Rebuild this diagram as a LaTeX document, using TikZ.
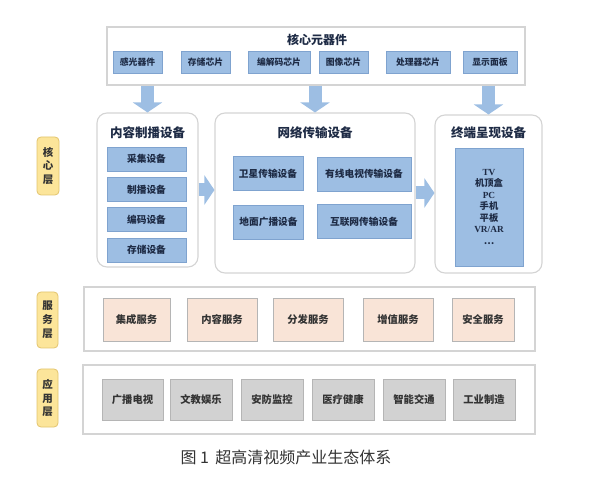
\documentclass[tikz,border=0pt]{standalone}
\usepackage{fontspec}
\setmainfont{Noto Sans CJK SC}
\newfontfamily\lat{Liberation Serif}
\usetikzlibrary{arrows.meta}
\definecolor{bfill}{HTML}{9DBEE3}
\definecolor{bline}{HTML}{7FA3CF}
\definecolor{oline}{HTML}{D4D4D4}
\definecolor{pfill}{HTML}{F9E4D7}
\definecolor{gfill}{HTML}{D2D2D2}
\definecolor{iline}{HTML}{B5B5B5}
\definecolor{yfill}{HTML}{FCE59A}
\definecolor{yline}{HTML}{E2C46E}
\definecolor{tnavy}{HTML}{1E2B45}
\definecolor{tdark}{HTML}{333333}
\tikzset{
  outerbox/.style={draw=oline, line width=1.1pt, fill=white, inner sep=0pt},
  roundbox/.style={outerbox, rounded corners=10pt},
  bluebox/.style={draw=bline, line width=0.6pt, fill=bfill, inner sep=0pt, font=\bfseries\fontsize{9.7}{11}\selectfont, text=tnavy},
  smallblue/.style={bluebox, font=\bfseries\fontsize{8.8}{10}\selectfont},
  peachbox/.style={draw=iline, line width=0.7pt, fill=pfill, inner sep=0pt, font=\bfseries\fontsize{10.3}{12}\selectfont, text=tdark},
  graybox/.style={draw=iline, line width=0.7pt, fill=gfill, inner sep=0pt, font=\bfseries\fontsize{10.3}{12}\selectfont, text=tdark},
  layerlabel/.style={draw=yline, line width=0.8pt, fill=yfill, rounded corners=4pt, inner sep=0pt, align=center, font=\bfseries\fontsize{10.5}{13.8}\selectfont, text=tdark},
  titletext/.style={font=\bfseries\fontsize{12.5}{14}\selectfont, text=tnavy, inner sep=0pt},
  blockarrow/.style={draw=bfill, line width=13pt, -{Triangle[width=29pt,length=10pt]}},
}
\begin{document}
\begin{tikzpicture}[x=1pt,y=-1pt]
\useasboundingbox (0,0) rectangle (592,478);
% top box
\node[outerbox, minimum width=418pt, minimum height=58pt] (top) at (316,56) {};
\node[titletext, font=\bfseries\fontsize{12}{14}\selectfont] (toptitle) at (317,40) {核心元器件};
\node[smallblue, minimum width=49pt, minimum height=22pt] (t1) at (137.5,62) {感光器件};
\node[smallblue, minimum width=49pt, minimum height=22pt] (t2) at (205.5,62) {存储芯片};
\node[smallblue, minimum width=62pt, minimum height=22pt] (t3) at (279,62) {编解码芯片};
\node[smallblue, minimum width=49pt, minimum height=22pt] (t4) at (343.5,62) {图像芯片};
\node[smallblue, minimum width=64pt, minimum height=22pt] (t5) at (418,62) {处理器芯片};
\node[smallblue, minimum width=54pt, minimum height=22pt] (t6) at (490,62) {显示面板};
% core layer
\node[layerlabel, minimum width=22pt, minimum height=58pt] (L1) at (48,166) {核\\心\\层};
\node[roundbox, minimum width=101pt, minimum height=154pt] (cbox) at (147.5,190) {};
\node[titletext] (ctitle) at (147.5,133) {内容制播设备};
\node[bluebox, minimum width=79pt, minimum height=24pt] (c1) at (146.5,159) {采集设备};
\node[bluebox, minimum width=79pt, minimum height=24pt] (c2) at (146.5,189.5) {制播设备};
\node[bluebox, minimum width=79pt, minimum height=24pt] (c3) at (146.5,219.5) {编码设备};
\node[bluebox, minimum width=79pt, minimum height=24pt] (c4) at (146.5,250) {存储设备};
\node[roundbox, minimum width=200pt, minimum height=160pt] (nbox) at (315,193) {};
\node[titletext] (ntitle) at (315,133) {网络传输设备};
\node[bluebox, minimum width=70pt, minimum height=34pt] (n1) at (268,173.5) {卫星传输设备};
\node[bluebox, minimum width=70pt, minimum height=34pt] (n2) at (268.5,222) {地面广播设备};
\node[bluebox, minimum width=94pt, minimum height=34pt] (n3) at (364,174) {有线电视传输设备};
\node[bluebox, minimum width=94pt, minimum height=34pt] (n4) at (364,221.5) {互联网传输设备};
\node[roundbox, minimum width=107pt, minimum height=158pt] (dbox) at (488.5,194) {};
\node[titletext] (dtitle) at (488.5,133) {终端呈现设备};
\node[bluebox, minimum width=68pt, minimum height=118pt, align=center, font=\bfseries\fontsize{9.3}{11.5}\selectfont] (d1) at (489,207)
  {{\lat\bfseries TV}\\机顶盒\\{\lat\bfseries PC}\\手机\\平板\\{\lat\bfseries VR/AR}\\…};
% arrows
\draw[blockarrow] (top.south -| cbox.north) -- (cbox.north);
\draw[blockarrow] (top.south -| nbox.north) -- (nbox.north);
\draw[blockarrow] (top.south -| dbox.north) -- (dbox.north);
\draw[blockarrow] (cbox.east) -- (cbox.east -| nbox.west);
\draw[blockarrow] (nbox.east) -- (nbox.east -| dbox.west);
% service layer
\node[layerlabel, minimum width=21pt, minimum height=56pt] (L2) at (47.5,320) {服\\务\\层};
\node[outerbox, minimum width=451pt, minimum height=64pt] (sbox) at (309.5,319) {};
\node[peachbox, minimum width=67pt, minimum height=43pt] (s1) at (136.5,319.5) {集成服务};
\node[peachbox, minimum width=70pt, minimum height=43pt] (s2) at (222,319.5) {内容服务};
\node[peachbox, minimum width=70pt, minimum height=43pt] (s3) at (308,319.5) {分发服务};
\node[peachbox, minimum width=70pt, minimum height=43pt] (s4) at (398,319.5) {增值服务};
\node[peachbox, minimum width=62pt, minimum height=43pt] (s5) at (483,319.5) {安全服务};
% application layer
\node[layerlabel, minimum width=21pt, minimum height=58pt] (L3) at (47.5,398) {应\\用\\层};
\node[outerbox, minimum width=452pt, minimum height=69pt] (abox) at (309,399.5) {};
\node[graybox, minimum width=61pt, minimum height=41pt] (a1) at (132.5,399.5) {广播电视};
\node[graybox, minimum width=62pt, minimum height=41pt] (a2) at (201,399.5) {文教娱乐};
\node[graybox, minimum width=62pt, minimum height=41pt] (a3) at (272,399.5) {安防监控};
\node[graybox, minimum width=62pt, minimum height=41pt] (a4) at (343,399.5) {医疗健康};
\node[graybox, minimum width=62pt, minimum height=41pt] (a5) at (414,399.5) {智能交通};
\node[graybox, minimum width=62pt, minimum height=41pt] (a6) at (484,399.5) {工业制造};
% caption
\node[font=\fontsize{16}{18}\selectfont, text=tdark, inner sep=0pt] (cap) at (286,457) {图 1\, 超高清视频产业生态体系};
\end{tikzpicture}
\end{document}
